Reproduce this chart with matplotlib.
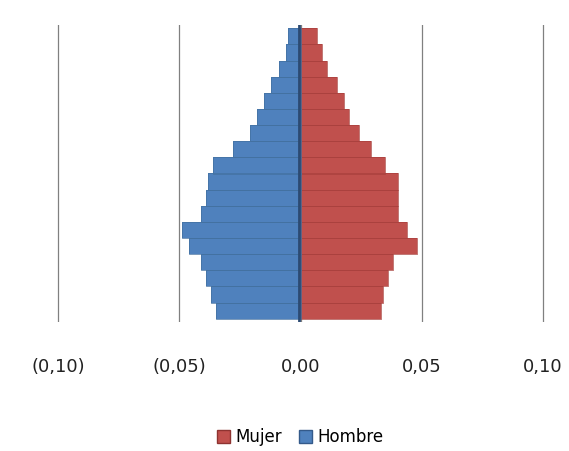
import matplotlib.pyplot as plt
import numpy as np
from matplotlib.patches import Patch

# age groups from oldest (top) to youngest (bottom)
AGE_GROUPS = ["85+", "80-84", "75-79", "70-74", "65-69", "60-64", "55-59", "50-54",
              "45-49", "40-44", "35-39", "30-34", "25-29", "20-24", "15-19",
              "10-14", "5-9", "0-4"]
MUJER = [0.007, 0.009, 0.011, 0.015, 0.018, 0.020, 0.024, 0.029, 0.035,
         0.040, 0.040, 0.040, 0.044, 0.048, 0.038, 0.036, 0.034, 0.033]
HOMBRE = [-0.005, -0.006, -0.009, -0.012, -0.015, -0.018, -0.021, -0.028, -0.036,
          -0.038, -0.039, -0.041, -0.049, -0.046, -0.041, -0.039, -0.037, -0.035]
X_TICKS = [-0.10, -0.05, 0.0, 0.05, 0.10]
X_TICK_LABELS = ["(0,10)", "(0,05)", "0,00", "0,05", "0,10"]

RED = "#C0504D"
BLUE = "#4F81BD"


def main():
    fig = plt.figure(figsize=(5.69, 4.51), dpi=100)
    ax = fig.add_axes([56 / 569, 1 - 322 / 451, (545 - 56) / 569, (322 - 25) / 451])

    y = np.arange(len(AGE_GROUPS))[::-1]
    ax.barh(y, MUJER, height=1.0, color=RED, linewidth=0, zorder=3)
    ax.barh(y, HOMBRE, height=1.0, color=BLUE, linewidth=0, zorder=3)
    # soft darker step edges, a hint of the bevelled look
    ax.barh(y, MUJER, height=1.0, fill=False, edgecolor="#A8403D", linewidth=0.5, zorder=3)
    ax.barh(y, HOMBRE, height=1.0, fill=False, edgecolor="#43709F", linewidth=0.5, zorder=3)
    # darker seam at the centre like the original
    ax.axvline(-0.0006, color="#2C4A72", linewidth=2.0, zorder=4)

    ax.set_xlim(-0.1008, 0.1008)
    ax.set_ylim(-0.7, len(AGE_GROUPS) - 0.3)
    ax.set_xticks(X_TICKS)
    ax.set_xticklabels(X_TICK_LABELS, fontsize=13, color="#222222")
    ax.set_yticks([])
    ax.tick_params(axis="x", length=0, pad=26)
    ax.xaxis.grid(True, color="#808080", linewidth=0.9, zorder=0)
    for spine in ax.spines.values():
        spine.set_visible(False)

    handles = [Patch(facecolor=RED, edgecolor="#8E3331", label="Mujer"),
               Patch(facecolor=BLUE, edgecolor="#345A8A", label="Hombre")]
    fig.legend(handles=handles, loc="center", bbox_to_anchor=(300 / 569, 1 - 437 / 451),
               ncol=2, frameon=False, fontsize=12, handlelength=0.8, handleheight=0.8,
               handletextpad=0.3, columnspacing=1.0)

    fig.savefig("out.png", dpi=100)


if __name__ == "__main__":
    main()
